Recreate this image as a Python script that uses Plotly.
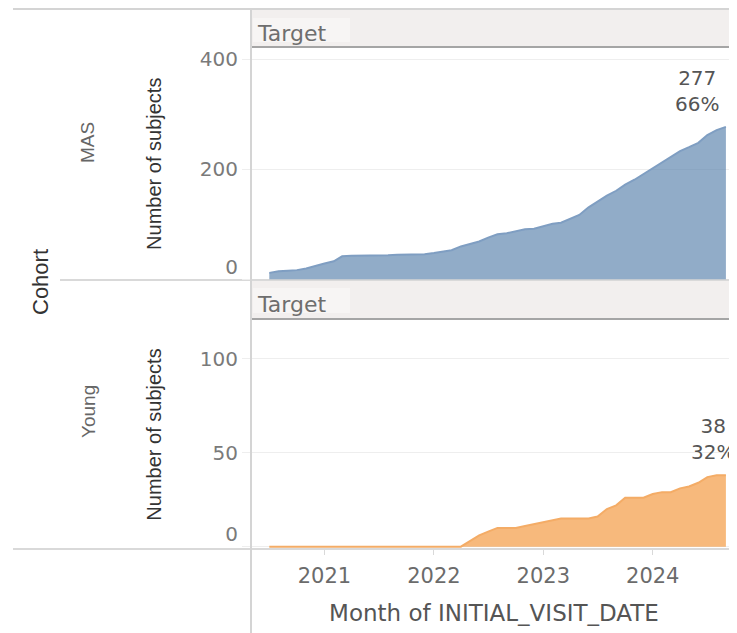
import plotly.graph_objects as go
import pandas as pd

W, H = 737, 633
OX, OY = 8, 8          # default page body margin
FW, FH = W - OX, H - OY

# ---- data ----
months = pd.date_range("2020-07-01", "2024-09-01", freq="MS")
cohorts = ["MAS", "Young"]
targets = [420, 120]
mas = [12, 15, 16, 17, 20, 25, 29, 33, 42, 43, 43, 44, 44, 44, 45, 45, 45, 46,
       48, 51, 53, 60, 65, 69, 76, 82, 84, 88, 91, 92, 97, 101, 103, 110, 117,
       131, 142, 152, 161, 172, 181, 191, 202, 212, 222, 233, 240, 248, 262,
       271, 277]
young = [0] * 22 + [3, 6, 8, 10, 10, 10, 11, 12, 13, 14, 15, 15, 15, 15, 16,
                    20, 22, 26, 26, 26, 28, 29, 29, 31, 32, 34, 37, 38, 38]
year_ticks = ["2021-01-01", "2022-01-01", "2023-01-01", "2024-01-01"]
year_labels = ["2021", "2022", "2023", "2024"]
y_ticks = [[0, 200, 400], [0, 50, 100]]
y_labels = [["0<br> ", "200", "400"], ["0<br> ", "50", "100"]]

series = [mas, young]
line_cols = ["#7f9ec2", "#f4ac66"]
fill_cols = ["rgba(78,121,167,0.62)", "rgba(242,142,43,0.62)"]


def px(x):
    return (x - OX) / FW


def py(y):
    return 1 - (y - OY) / FH


FONT = "DejaVu Sans"
fig = go.Figure()

for i, vals in enumerate(series):
    fig.add_trace(go.Scatter(
        x=months, y=vals, mode="lines", fill="tozeroy",
        line=dict(color=line_cols[i], width=2),
        fillcolor=fill_cols[i],
        xaxis="x" if i == 0 else "x2", yaxis="y" if i == 0 else "y2",
        showlegend=False, hoverinfo="x+y",
    ))

xrange = ["2020-05-01", "2024-10-08"]
xdom = [px(251), 1]
common_y = dict(
    showline=False, zeroline=False, showgrid=True, gridcolor="#eeeeee",
    gridwidth=1, ticks="outside", ticklen=8, tickcolor="#eeeeee",
    tickfont=dict(family=FONT, size=20, color="#7a7a7a"),
    automargin=False, fixedrange=True,
    title=dict(text="Number of subjects",
               font=dict(family="Liberation Sans", size=20, color="#333333"),
               standoff=32),
)

fig.update_layout(
    width=FW, height=FH, margin=dict(l=0, r=0, t=0, b=0),
    paper_bgcolor="white", plot_bgcolor="white", showlegend=False,
    xaxis=dict(domain=xdom, range=xrange, showticklabels=False, showgrid=False,
               zeroline=False, showline=False, ticks="", anchor="y",
               automargin=False),
    xaxis2=dict(domain=xdom, range=xrange, showgrid=False, zeroline=False,
                showline=False, anchor="y2", tickvals=year_ticks,
                ticktext=year_labels, ticks="outside", ticklen=6,
                tickcolor="#d9d9d9", ticklabelstandoff=3,
                tickfont=dict(family=FONT, size=21, color="#6b6b6b"),
                title=dict(text="Month of INITIAL_VISIT_DATE",
                           font=dict(family=FONT, size=23, color="#555555"),
                           standoff=17),
                automargin=False),
    yaxis=dict(domain=[py(279.5), py(48)], range=[0, targets[0]],
               tickvals=y_ticks[0], ticktext=y_labels[0], anchor="x",
               **common_y),
    yaxis2=dict(domain=[py(548), py(321)], range=[-0.7, targets[1]],
                tickvals=y_ticks[1], ticktext=y_labels[1], anchor="x2",
                **common_y),
)

shapes = []
# header bands
for top, bot, ctop, cbot in [(10, 47, 18, 42), (281, 319, 288, 313)]:
    shapes.append(dict(type="rect", xref="paper", yref="paper",
                       x0=px(251), x1=1, y0=py(bot), y1=py(top),
                       fillcolor="#f2efee", line=dict(width=0), layer="above"))
    shapes.append(dict(type="rect", xref="paper", yref="paper",
                       x0=px(253), x1=px(350), y0=py(cbot), y1=py(ctop),
                       fillcolor="#f7f5f4", line=dict(width=0), layer="above"))
    shapes.append(dict(type="line", xref="paper", yref="paper",
                       x0=px(251), x1=1, y0=py(bot), y1=py(bot),
                       line=dict(color="#a5a5a5", width=2), layer="above"))
# frame lines
shapes.append(dict(type="line", xref="paper", yref="paper", x0=px(13), x1=1,
                   y0=py(9), y1=py(9), line=dict(color="#d4d4d4", width=2),
                   layer="above"))
shapes.append(dict(type="line", xref="paper", yref="paper", x0=px(60), x1=1,
                   y0=py(280), y1=py(280), line=dict(color="#d9d9d9", width=2),
                   layer="between"))
shapes.append(dict(type="line", xref="paper", yref="paper", x0=px(13), x1=1,
                   y0=py(549), y1=py(549),
                   line=dict(color="#d9d9d9", width=2), layer="between"))
shapes.append(dict(type="line", xref="paper", yref="paper", x0=px(251),
                   x1=px(251), y0=py(9), y1=0,
                   line=dict(color="#d4d4d4", width=2), layer="above"))
fig.update_layout(shapes=shapes)

ann = []
# header text
for yc in [33, 304]:
    ann.append(dict(text="Target", xref="paper", yref="paper", x=px(255),
                    y=py(yc), xanchor="left", yanchor="middle", showarrow=False,
                    font=dict(family=FONT, size=22, color="#6e6e6e")))
# row labels
ann.append(dict(text="Cohort", xref="paper", yref="paper", x=px(40),
                y=py(282), textangle=-90, showarrow=False,
                xanchor="center", yanchor="middle",
                font=dict(family="Liberation Sans", size=22, color="#333333")))
for name, yc in zip(cohorts, [143, 412]):
    ann.append(dict(text=name, xref="paper", yref="paper", x=px(88), y=py(yc),
                    textangle=-90, showarrow=False,
                    xanchor="center", yanchor="middle",
                    font=dict(family="Liberation Sans", size=19,
                              color="#666666")))
# end labels
for i, vals in enumerate(series):
    last = vals[-1]
    pct = round(100 * last / targets[i])
    ann.append(dict(text=f"{last}<br>{pct}%", x=months[-1], y=last,
                    xref="x" if i == 0 else "x2",
                    yref="y" if i == 0 else "y2",
                    xanchor="center", yanchor="bottom", showarrow=False,
                    xshift=-29 if i == 0 else -13, yshift=9,
                    font=dict(family=FONT, size=20, color="#555555")))
fig.update_layout(annotations=ann)

fig.write_html("out.html")
